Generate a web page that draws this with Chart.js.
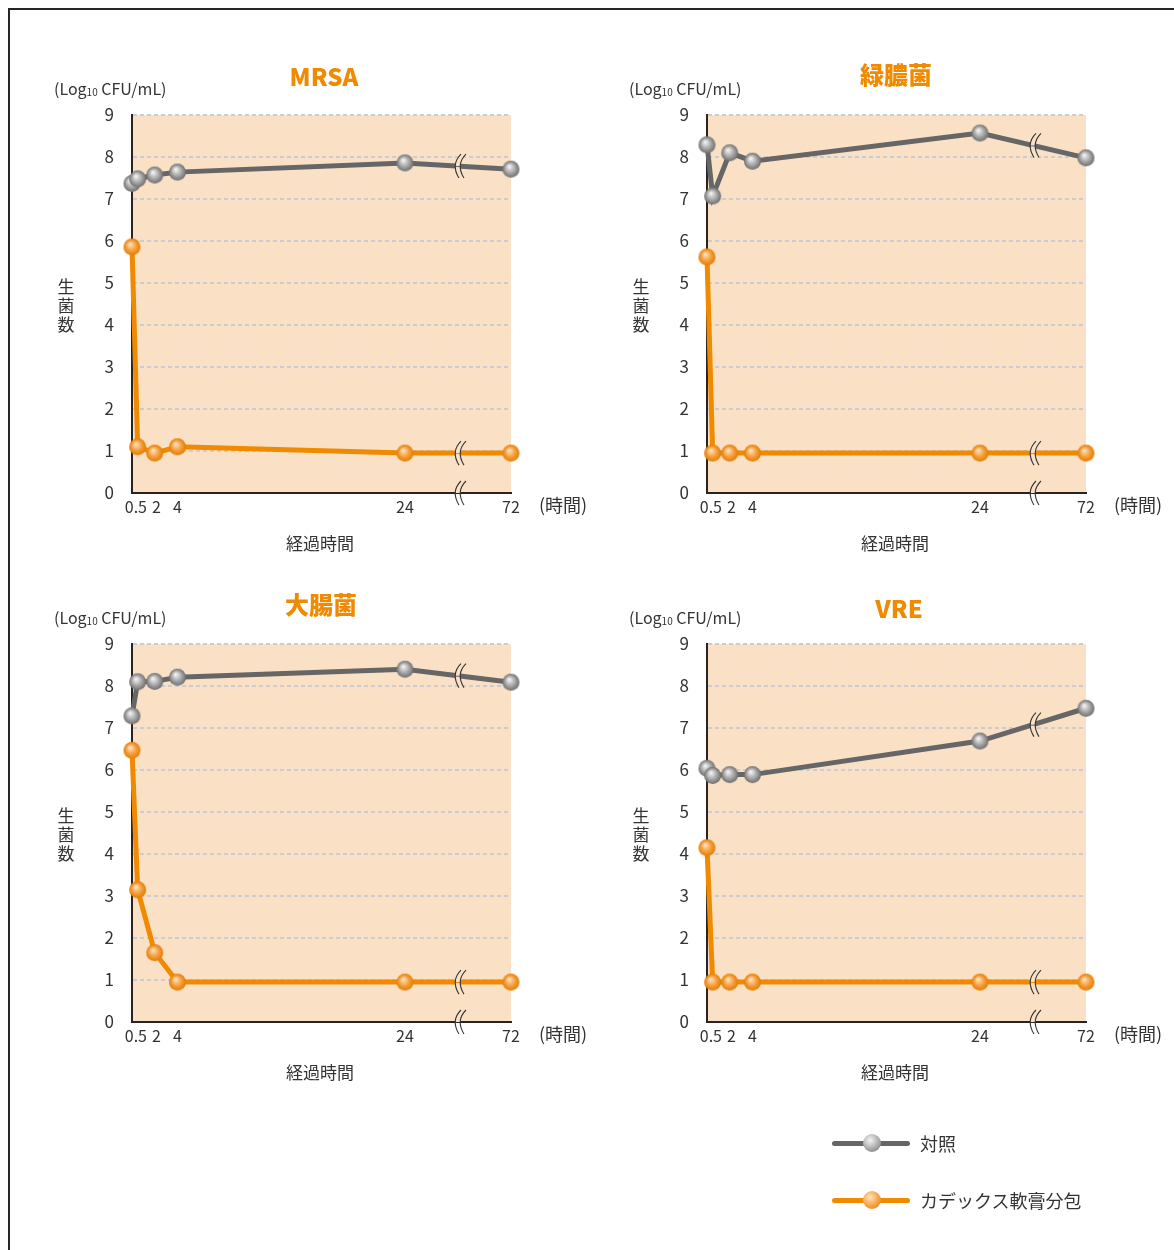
<!DOCTYPE html>
<html lang="ja">
<head>
<meta charset="UTF-8">
<title>経過時間と生菌数</title>
<script src="https://cdn.jsdelivr.net/npm/chart.js"></script>
<style>
  body {
    margin: 0;
    width: 1174px;
    height: 1250px;
    position: relative;
    background: #ffffff;
    font-family: "Noto Sans CJK JP", "Noto Sans", sans-serif;
    color: #333;
    overflow: hidden;
  }
  .frame {
    position: absolute;
    left: 8px;
    top: 8px;
    width: 1180px;
    height: 1260px;
    border-top: 2px solid #2b2321;
    border-left: 2px solid #2b2321;
  }
  .panel { position: absolute; }
  .title {
    position: absolute;
    width: 240px;
    text-align: center;
    font-weight: 900;
    font-size: 24px;
    line-height: 30px;
    color: #f08a00;
  }
  .txt {
    position: absolute;
    font-size: 16px;
    line-height: 20px;
    white-space: nowrap;
  }
  .txt sub { font-size: 10px; vertical-align: -1px; }
  .vert {
    position: absolute;
    width: 20px;
    font-size: 17px;
    line-height: 19px;
    text-align: center;
  }
  .legend-line {
    position: absolute;
    width: 78px;
    height: 5px;
    border-radius: 3px;
  }
  .legend-ball {
    position: absolute;
    width: 18px;
    height: 18px;
    border-radius: 50%;
  }
</style>
</head>
<body>
<div class="frame"></div>

<div class="panel" style="left:40px;top:60px"><canvas id="c1" width="560" height="510"></canvas></div>
<div class="panel" style="left:615px;top:60px"><canvas id="c2" width="560" height="510"></canvas></div>
<div class="panel" style="left:40px;top:589px"><canvas id="c3" width="560" height="510"></canvas></div>
<div class="panel" style="left:615px;top:589px"><canvas id="c4" width="560" height="510"></canvas></div>

<div class="title" style="left:204px;top:61px">MRSA</div>
<div class="title" style="left:776px;top:59px">緑膿菌</div>
<div class="title" style="left:201px;top:589px">大腸菌</div>
<div class="title" style="left:779px;top:593px">VRE</div>

<div class="txt" style="left:54px;top:78px">(Log<sub>10</sub> CFU/mL)</div>
<div class="txt" style="left:629px;top:78px">(Log<sub>10</sub> CFU/mL)</div>
<div class="txt" style="left:54px;top:607px">(Log<sub>10</sub> CFU/mL)</div>
<div class="txt" style="left:629px;top:607px">(Log<sub>10</sub> CFU/mL)</div>

<div class="vert" style="left:56px;top:276px">生<br>菌<br>数</div>
<div class="vert" style="left:631px;top:276px">生<br>菌<br>数</div>
<div class="vert" style="left:56px;top:805px">生<br>菌<br>数</div>
<div class="vert" style="left:631px;top:805px">生<br>菌<br>数</div>

<div class="txt" style="left:286px;top:533px;font-size:17px">経過時間</div>
<div class="txt" style="left:861px;top:533px;font-size:17px">経過時間</div>
<div class="txt" style="left:286px;top:1062px;font-size:17px">経過時間</div>
<div class="txt" style="left:861px;top:1062px;font-size:17px">経過時間</div>

<div class="txt" style="left:539px;top:494px;font-size:18px">(時間)</div>
<div class="txt" style="left:1114px;top:494px;font-size:18px">(時間)</div>
<div class="txt" style="left:539px;top:1023px;font-size:18px">(時間)</div>
<div class="txt" style="left:1114px;top:1023px;font-size:18px">(時間)</div>

<div class="legend-line" style="left:832px;top:1141px;background:#666"></div>
<div class="legend-ball" style="left:863px;top:1134px;background:radial-gradient(circle at 40% 35%, #f4f4f4, #a9a9a9 55%, #6e6e6e)"></div>
<div class="txt" style="left:920px;top:1132px;font-size:18px;line-height:22px">対照</div>
<div class="legend-line" style="left:832px;top:1198px;background:#f08a00"></div>
<div class="legend-ball" style="left:863px;top:1191px;background:radial-gradient(circle at 40% 35%, #fde3c0, #f5a040 55%, #e47c00)"></div>
<div class="txt" style="left:920px;top:1189px;font-size:18px;line-height:22px">カデックス軟膏分包</div>

<script>
// sampling times (hours) and tick labels
const hours = [0, 0.5, 2, 4, 24, 72];
const hourTicks = [0.5, 2, 4, 24, 72];
const hourLabels = ['0.5\u00a0', '\u00a02', '4', '24', '72'];
const yTicks = [0, 1, 2, 3, 4, 5, 6, 7, 8, 9];

// log10 CFU/mL
const mrsaControl   = [7.37, 7.48, 7.57, 7.64, 7.86, 7.71];
const mrsaCadex     = [5.86, 1.10, 0.95, 1.10, 0.95, 0.95];
const pseudoControl = [8.29, 7.07, 8.10, 7.90, 8.57, 7.98];
const pseudoCadex   = [5.62, 0.95, 0.95, 0.95, 0.95, 0.95];
const ecoliControl  = [7.29, 8.10, 8.11, 8.21, 8.40, 8.09];
const ecoliCadex    = [6.47, 3.15, 1.65, 0.95, 0.95, 0.95];
const vreControl    = [6.04, 5.87, 5.89, 5.89, 6.69, 7.47];
const vreCadex      = [4.15, 0.95, 0.95, 0.95, 0.95, 0.95];

// broken time axis: linear up to 24 h, compressed after the break
const AFTER_BREAK = 0.1942;
function axisPos(h) {
  return h <= 24 ? h : 24 + (h - 24) * AFTER_BREAK;
}
const X_MAX = axisPos(72);
const BREAK_POS = 28.66;

const PEACH = '#fae1c6';
const GRAY = '#666666';
const ORANGE = '#f08a00';
const FONT = '"Noto Sans CJK JP", "Noto Sans", sans-serif';

function sphere(c1, c2, c3) {
  const r = 8.5;
  const s = 19;
  const cv = document.createElement('canvas');
  cv.width = s; cv.height = s;
  const ctx = cv.getContext('2d');
  const g = ctx.createRadialGradient(s * 0.4, s * 0.35, 0.5, s / 2, s / 2, r);
  g.addColorStop(0, c1);
  g.addColorStop(0.55, c2);
  g.addColorStop(1, c3);
  ctx.fillStyle = g;
  ctx.beginPath();
  ctx.arc(s / 2, s / 2, r, 0, Math.PI * 2);
  ctx.fill();
  return cv;
}
const grayBall = sphere('#f4f4f4', '#a9a9a9', '#6e6e6e');
const orangeBall = sphere('#fde3c0', '#f5a040', '#e47c00');

const plotBackground = {
  id: 'plotBackground',
  beforeDraw(chart) {
    const a = chart.chartArea;
    const ctx = chart.ctx;
    ctx.save();
    ctx.fillStyle = PEACH;
    ctx.fillRect(a.left, a.top, a.right - a.left, a.bottom - a.top);
    ctx.restore();
  }
};

// "((" shaped break symbol
function breakMark(ctx, x, y, fillTop, fillBottom) {
  const h = 12;
  const gap = 5;
  function curve(dx) {
    ctx.moveTo(x + dx + 3, y - h);
    ctx.bezierCurveTo(x + dx - 5, y - 4, x + dx - 4, y + 4, x + dx + 1, y + h);
  }
  ctx.save();
  ctx.beginPath();
  ctx.moveTo(x + 3, y - h);
  ctx.bezierCurveTo(x - 5, y - 4, x - 4, y + 4, x + 1, y + h);
  ctx.lineTo(x + gap + 1, y + h);
  ctx.bezierCurveTo(x + gap - 4, y + 4, x + gap - 5, y - 4, x + gap + 3, y - h);
  ctx.closePath();
  ctx.save();
  ctx.clip();
  ctx.fillStyle = fillTop;
  ctx.fillRect(x - 10, y - h - 2, gap + 20, h + 2);
  ctx.fillStyle = fillBottom;
  ctx.fillRect(x - 10, y + 1, gap + 20, h + 2);
  ctx.restore();
  ctx.beginPath();
  curve(0);
  curve(gap);
  ctx.strokeStyle = '#333';
  ctx.lineWidth = 1.1;
  ctx.stroke();
  ctx.restore();
}

const axisBreaks = {
  id: 'axisBreaks',
  afterDatasetsDraw(chart) {
    const ctx = chart.ctx;
    const bx = chart.scales.x.getPixelForValue(BREAK_POS);
    chart.data.datasets.forEach((ds, i) => {
      const pts = chart.getDatasetMeta(i).data;
      const p1 = pts[4], p2 = pts[5];
      const t = (bx - p1.x) / (p2.x - p1.x);
      const by = p1.y + (p2.y - p1.y) * t;
      breakMark(ctx, bx, by, PEACH, PEACH);
    });
    breakMark(ctx, bx, chart.chartArea.bottom, PEACH, '#ffffff');
  }
};

function makeChart(id, control, cadex) {
  const ctx = document.getElementById(id).getContext('2d');
  return new Chart(ctx, {
    type: 'line',
    data: {
      datasets: [
        {
          label: '対照',
          data: hours.map((h, i) => ({ x: axisPos(h), y: control[i] })),
          borderColor: GRAY,
          borderWidth: 5,
          pointStyle: grayBall,
          clip: false,
          tension: 0
        },
        {
          label: 'カデックス軟膏分包',
          data: hours.map((h, i) => ({ x: axisPos(h), y: cadex[i] })),
          borderColor: ORANGE,
          borderWidth: 5,
          pointStyle: orangeBall,
          clip: false,
          tension: 0
        }
      ]
    },
    options: {
      responsive: false,
      animation: false,
      events: [],
      layout: { padding: { top: 55, right: 89, left: 0, bottom: 0 } },
      elements: { point: { radius: 8 } },
      plugins: {
        legend: { display: false },
        tooltip: { enabled: false }
      },
      scales: {
        x: {
          type: 'linear',
          min: 0,
          max: X_MAX,
          afterFit: s => { s.height = 77; },
          afterBuildTicks: s => {
            s.ticks = hourTicks.map(h => ({ value: axisPos(h) }));
          },
          grid: { display: false, drawTicks: false, tickLength: 0 },
          border: { display: true, color: '#2b2321', width: 2 },
          ticks: {
            autoSkip: false,
            maxRotation: 0,
            padding: 4,
            color: '#333',
            font: { size: 16, family: FONT },
            callback: (v, i) => hourLabels[i]
          }
        },
        y: {
          min: 0,
          max: 9,
          afterFit: s => { s.width = 92; },
          afterBuildTicks: s => {
            s.ticks = yTicks.map(v => ({ value: v }));
          },
          grid: {
            drawTicks: false,
            lineWidth: 2,
            color: c => c.tick.value === 0 ? 'rgba(0,0,0,0)' : '#c9cdd1'
          },
          // in Chart.js v4 border.dash dashes the grid lines
          border: { display: true, color: '#2b2321', width: 2, dash: [4, 3] },
          ticks: {
            padding: 18,
            color: '#333',
            font: { size: 17, family: FONT }
          }
        }
      }
    },
    plugins: [plotBackground, axisBreaks]
  });
}

makeChart('c1', mrsaControl, mrsaCadex);
makeChart('c2', pseudoControl, pseudoCadex);
makeChart('c3', ecoliControl, ecoliCadex);
makeChart('c4', vreControl, vreCadex);
</script>
</body>
</html>
